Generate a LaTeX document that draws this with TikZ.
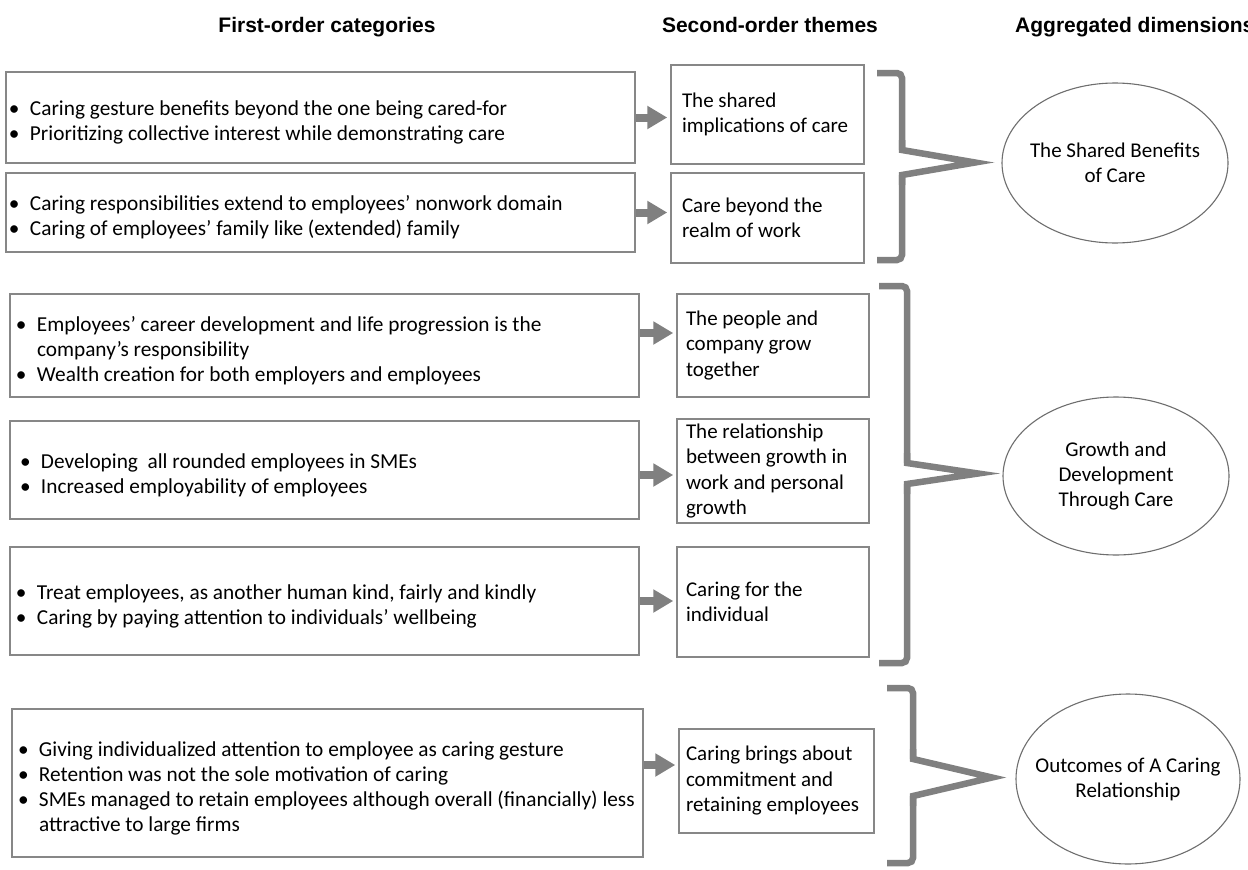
\documentclass[tikz,border=0pt]{standalone}
\usepackage{fontspec}
\setmainfont{Carlito}
\newfontfamily\hdrfont{Liberation Sans}
\usetikzlibrary{arrows.meta,shapes.geometric}
\definecolor{linegray}{RGB}{128,128,128}
\definecolor{boxgray}{RGB}{135,135,135}
\definecolor{ellgray}{RGB}{110,110,110}
\newcommand{\bitem}[1]{\par\noindent\hangindent=21pt\hangafter=1\makebox[21pt][l]{•}#1\par}
\newcommand{\normspace}{\raggedright\spaceskip=0pt\xspaceskip=0pt\relax}
\tikzset{
  hdr/.style={font=\hdrfont\bfseries\fontsize{21}{25}\selectfont, anchor=base, inner sep=0pt},
  catbox/.style={draw=boxgray, line width=1.4pt, fill=white, inner ysep=2pt,
    font=\fontsize{21.3}{25}\selectfont, execute at begin node=\normspace},
  themebox/.style={draw=boxgray, line width=1.4pt, fill=white, inner ysep=2pt,
    font=\fontsize{21}{25.5}\selectfont, execute at begin node=\normspace},
  dimell/.style={ellipse, draw=ellgray, line width=1.1pt, fill=white, align=center,
    font=\fontsize{21}{25}\selectfont, inner ysep=0pt, inner xsep=-30pt},
  flowarrow/.style={draw=linegray, line width=8pt, -{Triangle[length=20pt,width=22pt]}, shorten >=3pt},
  brkt/.style={draw=linegray, line width=6.5pt},
  brktL/.style={brkt, rounded corners=5pt},
}
\begin{document}
\begin{tikzpicture}[x=1pt,y=-1pt]
\useasboundingbox (0,0) rectangle (1248,870);
\clip (0,0) rectangle (1248,870);

% headers
\node[hdr] (h1) at (327,32) {First-order categories};
\node[hdr] (h2) at (770,32) {Second-order themes};
\node[hdr, anchor=base west] (h3) at (1015,32) {Aggregated dimensions};

% first-order category boxes
\node[catbox, minimum width=629pt, minimum height=91pt, inner xsep=3pt, text width=623pt] (b1) at (320.5,117.5)
  {\bitem{Caring gesture benefits beyond the one being cared-for}\bitem{Prioritizing collective interest while demonstrating care}};
\node[catbox, minimum width=629pt, minimum height=79pt, inner xsep=3pt, text width=623pt] (b2) at (320.5,212.5)
  {\bitem{Caring responsibilities extend to employees’ nonwork domain}\bitem{Caring of employees’ family like (extended) family}};
\node[catbox, minimum width=629pt, minimum height=103pt, inner xsep=6pt, text width=617pt] (b3) at (324.5,345.5)
  {\bitem{Employees’ career development and life progression is the\newline company’s responsibility}\bitem{Wealth creation for both employers and employees}};
\node[catbox, minimum width=629pt, minimum height=98pt, inner xsep=10pt, text width=609pt] (b4) at (324.5,470)
  {\bitem{Developing\ \ all rounded employees in SMEs}\bitem{Increased employability of employees}};
\node[catbox, minimum width=629pt, minimum height=108pt, inner xsep=6pt, text width=617pt] (b5) at (324.5,601)
  {\bitem{Treat employees, as another human kind, fairly and kindly}\bitem{Caring by paying attention to individuals’ wellbeing}};
\node[catbox, minimum width=631pt, minimum height=148pt, inner xsep=6pt, text width=619pt] (b6) at (327.5,783)
  {\bitem{Giving individualized attention to employee as caring gesture}\bitem{Retention was not the sole motivation of caring}\bitem{\mbox{SMEs managed to retain employees although overall (financially) less}\newline attractive to large firms}};

% second-order theme boxes
\node[themebox, minimum width=193pt, minimum height=99pt, inner xsep=11pt, text width=171pt] (t1) at (767.5,114.5)
  {The shared\\implications of care};
\node[themebox, minimum width=193pt, minimum height=90pt, inner xsep=11pt, text width=171pt] (t2) at (767.5,218)
  {Care beyond the\\realm of work};
\node[themebox, minimum width=192pt, minimum height=103pt, inner xsep=9pt, text width=174pt] (t3) at (773,345.5)
  {The people and\\company grow\\together};
\node[themebox, minimum width=192pt, minimum height=104pt, inner xsep=9pt, text width=174pt] (t4) at (773,471)
  {The relationship\\between growth in\\work and personal\\growth};
\node[themebox, minimum width=192pt, minimum height=110pt, inner xsep=9pt, text width=174pt] (t5) at (773,602)
  {Caring for the\\individual};
\node[themebox, minimum width=195pt, minimum height=104pt, inner xsep=7pt, text width=181pt] (t6) at (776.5,781)
  {Caring brings about\\commitment and\\retaining employees};

% arrows
\coordinate (a1) at (b1.east);
\coordinate (a2) at (b2.east);
\coordinate (a3) at ([yshift=12.5pt]b3.east);
\coordinate (a4) at ([yshift=-5pt]b4.east);
\coordinate (a5) at (b5.east);
\coordinate (a6) at ([yshift=18pt]b6.east);
\draw[flowarrow] (a1) -- (a1 -| t1.west);
\draw[flowarrow] (a2) -- (a2 -| t2.west);
\draw[flowarrow] (a3) -- (a3 -| t3.west);
\draw[flowarrow] (a4) -- (a4 -| t4.west);
\draw[flowarrow] (a5) -- (a5 -| t5.west);
\draw[flowarrow] (a6) -- (a6 -| t6.west);

% aggregated dimensions
\node[dimell, minimum width=226pt, minimum height=160pt] (e1) at (1115,163) {The Shared Benefits\\of Care};
\node[dimell, minimum width=226pt, minimum height=158pt] (e2) at (1116,476) {Growth and\\Development\\Through Care};
\node[dimell, minimum width=224pt, minimum height=170pt] (e3) at (1128,779) {Outcomes of A Caring\\Relationship};

% brackets
\draw[brktL] (877,73) -- (902,73) -- (902,150);
\draw[brkt] (902,140) -- (902,150) -- (975,162.5) -- (902,175) -- (902,185);
\draw[brktL] (902,175) -- (902,260) -- (877,260);

\draw[brktL] (879,286) -- (907,286) -- (907,463);
\draw[brkt] (907,453) -- (907,463) -- (978,473.5) -- (907,484) -- (907,494);
\draw[brktL] (907,484) -- (907,663) -- (879,663);

\draw[brktL] (887,688) -- (913,688) -- (913,759);
\draw[brkt] (913,749) -- (913,759) -- (992,777.5) -- (913,796) -- (913,806);
\draw[brktL] (913,796) -- (913,863) -- (887,863);
\end{tikzpicture}
\end{document}
